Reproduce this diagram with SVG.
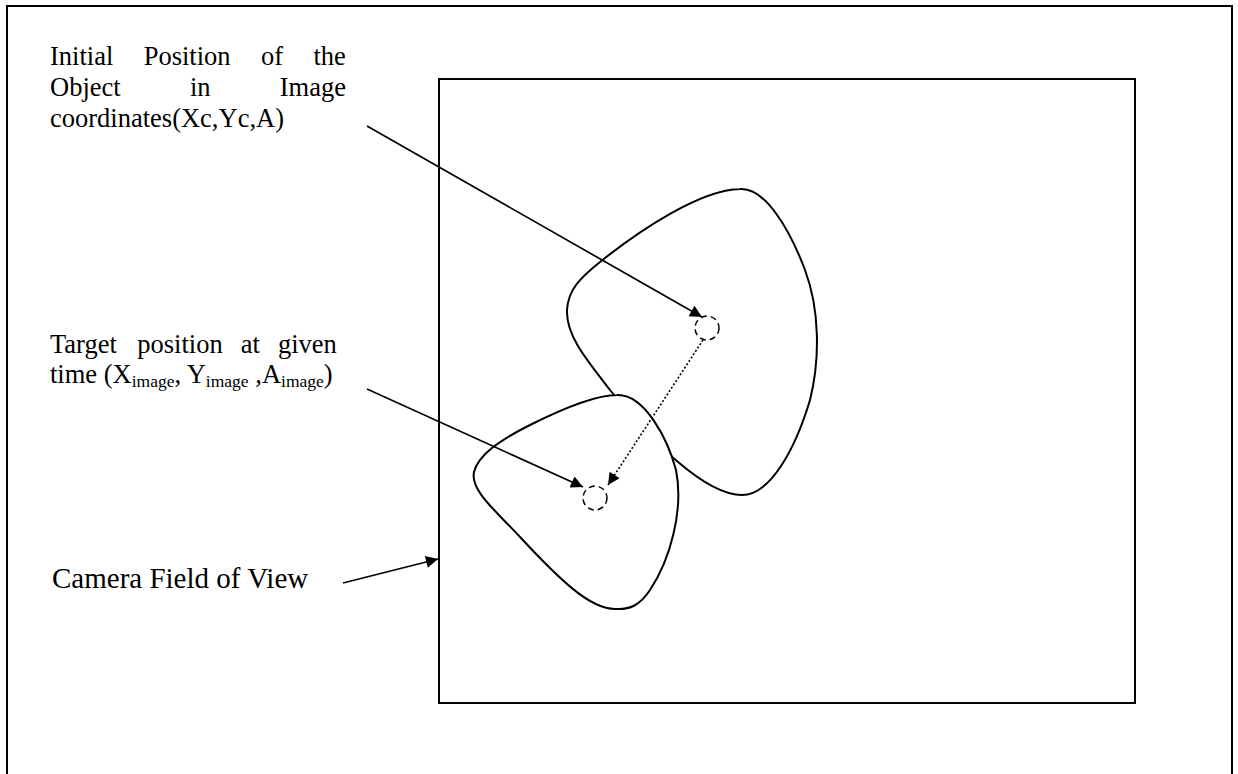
<svg xmlns="http://www.w3.org/2000/svg" width="1238" height="774" viewBox="0 0 1238 774">
<defs>
<style>
.frame{fill:none;stroke:#000;stroke-width:2}
.shape{fill:#fff;stroke:#000;stroke-width:2}
.dash{fill:none;stroke:#000;stroke-width:1.5;stroke-dasharray:6 4}
.conn{fill:none;stroke:#000;stroke-width:1.7}
.dot{fill:none;stroke:#000;stroke-width:1.6;stroke-dasharray:2 2}
.lbl{font-family:"Liberation Serif","Times New Roman",serif;font-size:26.5px;fill:#000}
.big{font-size:29px}
.sub{font-size:17.5px}
</style>
<marker id="ah" viewBox="0 0 10 10" refX="10" refY="5" markerWidth="16" markerHeight="12" markerUnits="userSpaceOnUse" orient="auto">
<path d="M0,0 L10,5 L0,10 Z" fill="#000"/>
</marker>
</defs>
<rect x="0" y="0" width="1238" height="774" fill="#fff"/>
<rect class="frame" x="7" y="6" width="1225" height="800"/>
<g id="fov"><rect class="frame" x="439" y="79" width="696" height="624"/></g>
<g id="obj-initial">
<path class="shape" d="M740,189 C765,187 790,230 805,270 C820,310 820,360 810,400 C795,450 770,495 742,495 C705,495 650,440 610,390 C585,358 566,335 567,310 C568,290 580,278 600,262 C640,230 700,190 740,189 Z"/>
</g>
<g id="obj-target">
<path class="shape" d="M617,395 C645,394 668,440 676,470 C684,510 670,560 650,590 C640,605 630,610 615,609 C590,609 560,580 520,537 C495,510 470,490 474,472 C478,455 500,440 530,425 C560,410 595,395 617,395 Z"/>
</g>
<g id="pt-initial"><circle class="dash" cx="707" cy="328" r="12"/></g>
<g id="pt-target"><circle class="dash" cx="595" cy="498" r="12"/></g>
<g id="connectors">
<line class="conn" x1="367" y1="126" x2="702" y2="317" marker-end="url(#ah)"/>
<line class="conn" x1="367" y1="389" x2="583" y2="487" marker-end="url(#ah)"/>
<line class="dot" x1="703" y1="340" x2="608" y2="485" marker-end="url(#ah)"/>
<line class="conn" x1="343" y1="583" x2="438" y2="559" marker-end="url(#ah)"/>
</g>
<g id="label-initial">
<text class="lbl" y="65"><tspan x="50">Initial</tspan><tspan x="143.7">Position</tspan><tspan x="261">of</tspan><tspan x="313.5">the</tspan></text>
<text class="lbl" y="96"><tspan x="50">Object</tspan><tspan x="189.9">in</tspan><tspan x="279.8">Image</tspan></text>
<text class="lbl" x="50" y="127">coordinates(Xc,Yc,A)</text>
</g>
<g id="label-target">
<text class="lbl" y="353"><tspan x="50">Target</tspan><tspan x="137.3">position</tspan><tspan x="240.8">at</tspan><tspan x="278">given</tspan></text>
<text class="lbl" x="50" y="383">time (X<tspan class="sub" dy="4">image</tspan><tspan dy="-4">, Y</tspan><tspan class="sub" dy="4">image</tspan><tspan dy="-4"> ,A</tspan><tspan class="sub" dy="4">image</tspan><tspan dy="-4">)</tspan></text>
</g>
<g id="label-camera">
<text class="lbl big" x="52" y="588">Camera Field of View</text>
</g>
</svg>
